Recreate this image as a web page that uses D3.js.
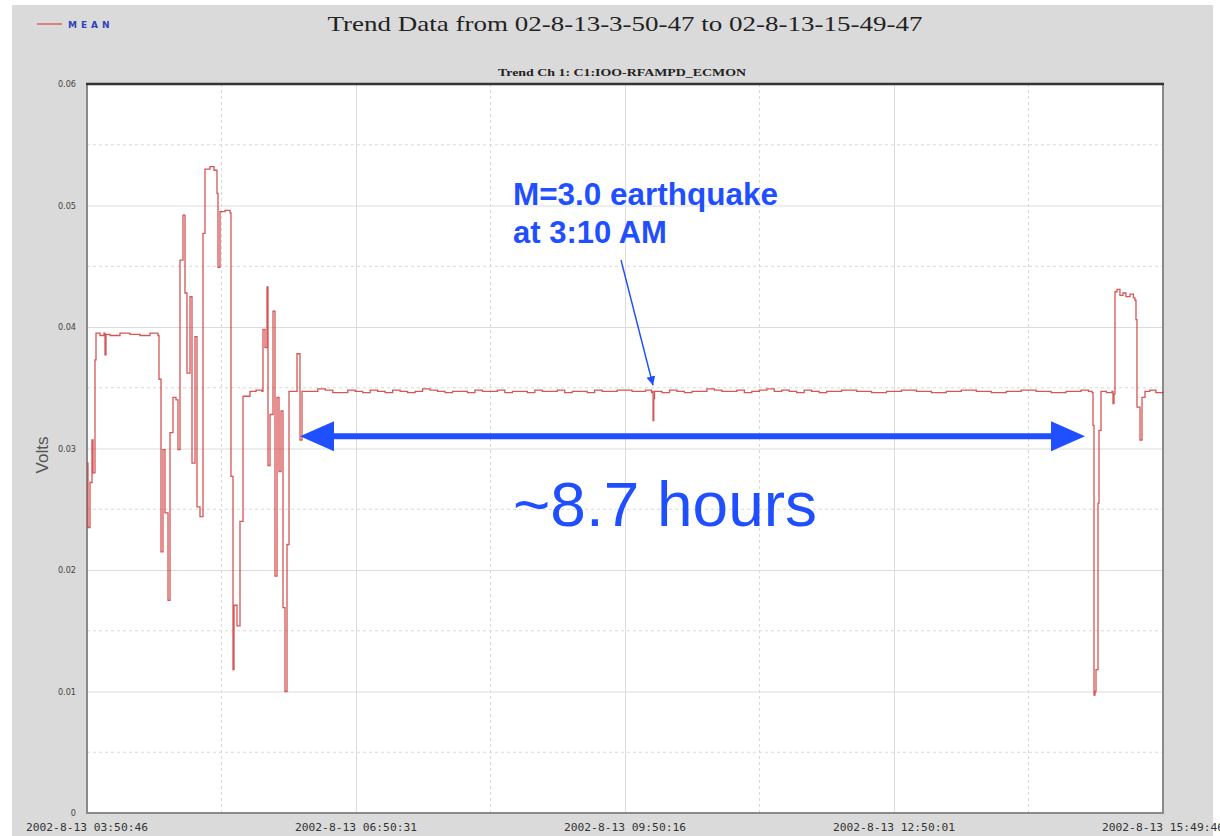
<!DOCTYPE html>
<html>
<head>
<meta charset="utf-8">
<script src="https://cdn.jsdelivr.net/npm/d3@7"></script>
<style>
body { margin: 0; background: #fff; }
svg { display: block; }
</style>
</head>
<body>
<svg id="Viz"></svg>
<script>
// trend of C1:IOO-RFAMPD mean as [time, volts]
let lockLossStart = [
["03:50:46",0.0288],["03:51:26",0.0235],["03:52:46",0.0272],["03:54:06",0.0307],["03:54:47",0.0280],
["03:56:07",0.0373],["03:56:47",0.0395],["03:59:27",0.0393],["04:02:08",0.0395],["04:02:48",0.0377],
["04:03:28",0.0394],["04:06:08",0.0393],["04:12:49",0.0395],["04:19:30",0.0394],["04:26:11",0.0393],
["04:32:52",0.0395],["04:38:13",0.0393],["04:38:53",0.0357],["04:40:13",0.0215],["04:41:33",0.0299],
["04:42:53",0.0247],["04:44:54",0.0175],["04:46:14",0.0313],["04:48:14",0.0342],["04:50:14",0.0340],
["04:51:34",0.0299],["04:52:55",0.0455],["04:54:55",0.0492],["04:56:15",0.0428],["04:57:35",0.0362],
["04:59:36",0.0425],["05:00:56",0.0288],["05:02:56",0.0392],["05:04:16",0.0252],["05:06:17",0.0244],
["05:08:17",0.0477],["05:09:37",0.0530],["05:12:57",0.0532],["05:15:38",0.0529],["05:17:38",0.0510],
["05:18:18",0.0449],["05:19:38",0.0495],["05:22:59",0.0496],["05:26:19",0.0494],["05:26:59",0.0277],
["05:28:20",0.0118],["05:29:00",0.0171],["05:31:00",0.0154],["05:33:00",0.0240],["05:35:01",0.0343],
["05:39:41",0.0347],["05:43:42",0.0348],["05:47:42",0.0347],["05:48:22",0.0398],["05:49:43",0.0383],
["05:51:03",0.0433],["05:51:43",0.0286],["05:53:03",0.0328],["05:55:03",0.0413],["05:56:23",0.0195],
["05:57:44",0.0342],["05:59:04",0.0281],["06:00:24",0.0331],["06:01:44",0.0169],["06:03:04",0.0100],
["06:04:25",0.0221],["06:05:45",0.0347],["06:09:45",0.0347],["06:11:06",0.0378],["06:13:06",0.0307],
["06:14:26",0.0347]
];

let lockedFlat = [
["06:20:00",0.0347],["06:25:00",0.0349],["06:30:00",0.0348],["06:35:00",0.0346],["06:40:00",0.0346],
["06:45:00",0.0348],["06:50:00",0.0347],["06:55:00",0.0346],["07:00:00",0.0348],["07:05:00",0.0347],
["07:10:00",0.0346],["07:15:00",0.0348],["07:20:00",0.0347],["07:25:00",0.0346],["07:30:00",0.0347],
["07:35:00",0.0349],["07:40:00",0.0348],["07:45:00",0.0347],["07:50:00",0.0346],["07:55:00",0.0347],
["08:00:00",0.0347],["08:05:00",0.0346],["08:10:00",0.0348],["08:15:00",0.0347],["08:20:00",0.0347],
["08:25:00",0.0348],["08:30:00",0.0346],["08:35:00",0.0347],["08:40:00",0.0347],["08:45:00",0.0346],
["08:50:00",0.0348],["08:55:00",0.0347],["09:00:00",0.0347],["09:05:00",0.0348],["09:10:00",0.0346],
["09:15:00",0.0347],["09:20:00",0.0347],["09:25:00",0.0346],["09:30:00",0.0348],["09:35:00",0.0347],
["09:40:00",0.0347],["09:45:00",0.0348],["09:50:00",0.0348],["09:55:00",0.0347],["10:00:00",0.0347],
["10:04:00",0.0348],["10:08:00",0.0346],["10:08:40",0.0347],["10:09:00",0.0323],["10:09:30",0.0341],
["10:10:00",0.0347],["10:15:00",0.0346],["10:20:00",0.0348],["10:25:00",0.0347],["10:30:00",0.0346],
["10:35:00",0.0347],["10:40:00",0.0347],["10:45:00",0.0349],["10:50:00",0.0348],["10:55:00",0.0347],
["11:00:00",0.0347],["11:05:00",0.0348],["11:10:00",0.0346],["11:15:00",0.0347],["11:20:00",0.0348],
["11:25:00",0.0349],["11:30:00",0.0347],["11:35:00",0.0348],["11:40:00",0.0347],["11:45:00",0.0346],
["11:50:00",0.0348],["11:55:00",0.0347],["12:00:00",0.0346],["12:05:00",0.0347],["12:10:00",0.0347],
["12:15:00",0.0348],["12:20:00",0.0348],["12:25:00",0.0347],["12:30:00",0.0347],["12:35:00",0.0346],
["12:40:00",0.0346],["12:45:00",0.0347],["12:50:00",0.0347],["12:55:00",0.0348],["13:00:00",0.0348],
["13:05:00",0.0347],["13:10:00",0.0347],["13:15:00",0.0346],["13:20:00",0.0346],["13:25:00",0.0347],
["13:30:00",0.0347],["13:35:00",0.0348],["13:40:00",0.0348],["13:45:00",0.0347],["13:50:00",0.0347],
["13:55:00",0.0346],["14:00:00",0.0346],["14:05:00",0.0347],["14:10:00",0.0347],["14:15:00",0.0348],
["14:20:00",0.0348],["14:25:00",0.0347],["14:30:00",0.0347],["14:35:00",0.0346],["14:40:00",0.0346],
["14:45:00",0.0347],["14:50:00",0.0347],["14:55:00",0.0348],["15:00:00",0.0347],["15:02:20",0.0346]
];

let lockLossEnd = [
["15:03:00",0.0319],["15:03:40",0.0097],["15:04:20",0.0100],["15:05:00",0.0118],["15:06:20",0.0255],
["15:07:00",0.0315],["15:08:20",0.0347],["15:12:00",0.0346],["15:15:41",0.0347],["15:16:21",0.0337],
["15:17:01",0.0345],["15:17:41",0.0429],["15:19:02",0.0431],["15:21:00",0.0426],["15:23:00",0.0428],
["15:25:00",0.0425],["15:27:43",0.0427],["15:30:00",0.0424],["15:31:03",0.0422],["15:31:43",0.0406],
["15:32:23",0.0334],["15:34:24",0.0307],["15:35:44",0.0342],["15:37:44",0.0347],["15:41:00",0.0348],
["15:45:00",0.0346],["15:49:46",0.0347]
];

let xTickTimes = ["03:50:46","06:50:31","09:50:16","12:50:01","15:49:46"];
let xTickLabels = ["2002-8-13 03:50:46","2002-8-13 06:50:31","2002-8-13 09:50:16","2002-8-13 12:50:01","2002-8-13 15:49:46"];
let yTicks = [0, 0.01, 0.02, 0.03, 0.04, 0.05, 0.06];
let yTickLabels = ["0","0.01","0.02","0.03","0.04","0.05","0.06"];

let Width = 1220, Height = 836;
let margin = {top: 84, left: 87, right: 57, bottom: 23};

let parseT = d3.timeParse("%H:%M:%S");
let series = lockLossStart.concat(lockedFlat, lockLossEnd).map(d => ({t: parseT(d[0]), v: d[1]}));

let vizArea = d3.select('#Viz').attr("width", Width).attr("height", Height);

// grey window panel
vizArea.append("rect").attr("x", 12).attr("y", 5).attr("width", 1201).attr("height", Height - 5).attr("fill", "#dadada");

let xScale = d3.scaleTime()
.domain([parseT(xTickTimes[0]), parseT(xTickTimes[4])])
.range([margin.left, Width - margin.right]);
let yScale = d3.scaleLinear().domain([0, 0.06]).range([Height - margin.bottom, margin.top]);

let x0 = xScale.range()[0], x1 = xScale.range()[1];
let y0 = yScale.range()[0], y1 = yScale.range()[1];

vizArea.append("rect")
.attr("x", x0).attr("y", y1).attr("width", x1 - x0).attr("height", y0 - y1)
.attr("fill", "#fff");

// minor grid (dashed) at half steps
let minorY = yTicks.slice(0, -1).map(d => d + 0.005);
let xt = xTickTimes.map(parseT);
let minorX = xt.slice(0, -1).map((d, i) => new Date((+d + +xt[i + 1]) / 2));

vizArea.append("g").selectAll("line").data(minorY).enter().append("line")
.attr("x1", x0).attr("x2", x1)
.attr("y1", d => yScale(d)).attr("y2", d => yScale(d))
.attr("stroke", "#d8d8d8").attr("stroke-dasharray", "3,3");
vizArea.append("g").selectAll("line").data(minorX).enter().append("line")
.attr("y1", y1).attr("y2", y0)
.attr("x1", d => xScale(d)).attr("x2", d => xScale(d))
.attr("stroke", "#d8d8d8").attr("stroke-dasharray", "3,3");

// major grid
vizArea.append("g")
.attr("transform", "translate(" + x0 + ",0)")
.call(d3.axisLeft(yScale).tickValues(yTicks).tickSize(-(x1 - x0)).tickFormat(""))
.call(g => g.select(".domain").remove())
.call(g => g.selectAll("line").attr("stroke", "#dcdcdc"));
vizArea.append("g")
.attr("transform", "translate(0," + y0 + ")")
.call(d3.axisBottom(xScale).tickValues(xt).tickSize(-(y0 - y1)).tickFormat(""))
.call(g => g.select(".domain").remove())
.call(g => g.selectAll("line").attr("stroke", "#dcdcdc"));

// tick labels
vizArea.append("g").selectAll("text").data(yTicks).enter().append("text")
.attr("x", 76).attr("y", d => yScale(d) + 3)
.attr("text-anchor", "end")
.attr("font-family", "DejaVu Sans Condensed, DejaVu Sans")
.attr("font-size", 9).attr("fill", "#444")
.text((d, i) => yTickLabels[i]);

vizArea.append("g").selectAll("text").data(xt).enter().append("text")
.attr("x", d => xScale(d)).attr("y", 831)
.attr("text-anchor", "middle")
.attr("font-family", "DejaVu Sans Mono")
.attr("font-size", 10).attr("fill", "#333")
.attr("textLength", 122).attr("lengthAdjust", "spacingAndGlyphs")
.text((d, i) => xTickLabels[i]);

// frame
vizArea.append("rect")
.attr("x", x0).attr("y", y1).attr("width", x1 - x0).attr("height", y0 - y1)
.attr("fill", "none").attr("stroke", "#8a8a8a").attr("stroke-width", 2);
vizArea.append("line")
.attr("x1", x0 - 1).attr("x2", x1 + 1).attr("y1", y1).attr("y2", y1)
.attr("stroke", "#333").attr("stroke-width", 2.5);

// trend line, held between samples like the trend viewer draws it
let drawline = d3.line().curve(d3.curveStepAfter).x(d => xScale(d.t)).y(d => yScale(d.v));
vizArea.append("path")
.datum(series)
.attr("fill", "none")
.attr("stroke", "#cc2a2a")
.attr("stroke-opacity", 0.8)
.attr("stroke-width", 1.3)
.attr("d", drawline);

// titles and legend
vizArea.append("text")
.attr("x", 625).attr("y", 31).attr("text-anchor", "middle")
.attr("font-family", "Liberation Serif").attr("font-size", 22).attr("fill", "#222")
.attr("textLength", 595).attr("lengthAdjust", "spacingAndGlyphs")
.text("Trend Data from 02-8-13-3-50-47 to 02-8-13-15-49-47");
vizArea.append("text")
.attr("x", 622).attr("y", 76).attr("text-anchor", "middle")
.attr("font-family", "Liberation Serif").attr("font-size", 11).attr("font-weight", "bold").attr("fill", "#222")
.attr("textLength", 248).attr("lengthAdjust", "spacingAndGlyphs")
.text("Trend Ch 1: C1:IOO-RFAMPD_ECMON");
vizArea.append("line").attr("x1", 37).attr("x2", 62).attr("y1", 24).attr("y2", 24)
.attr("stroke", "#e06060").attr("stroke-width", 1.5);
vizArea.append("text").attr("x", 68).attr("y", 28)
.attr("font-family", "DejaVu Sans").attr("font-size", 9).attr("font-weight", "bold").attr("fill", "#3040c0")
.attr("letter-spacing", 4).text("MEAN");

vizArea.append("text")
.attr("transform", "translate(48,455) rotate(-90)")
.attr("text-anchor", "middle")
.attr("font-family", "Liberation Sans").attr("font-size", 17).attr("fill", "#555")
.text("Volts");

// annotations
let blue = "#1f4fff";
let defs = vizArea.append("defs");
defs.append("marker").attr("id", "thinHead").attr("viewBox", "0 0 10 10")
.attr("refX", 10).attr("refY", 5).attr("markerWidth", 9).attr("markerHeight", 11)
.attr("markerUnits", "userSpaceOnUse").attr("orient", "auto")
.append("path").attr("d", "M0,0 L10,5 L0,10 z").attr("fill", blue);

vizArea.append("text").attr("x", 513).attr("y", 205)
.attr("font-family", "Liberation Sans").attr("font-weight", "bold").attr("font-size", 31).attr("fill", blue)
.attr("textLength", 265).attr("lengthAdjust", "spacingAndGlyphs")
.text("M=3.0 earthquake");
vizArea.append("text").attr("x", 513).attr("y", 243)
.attr("font-family", "Liberation Sans").attr("font-weight", "bold").attr("font-size", 31).attr("fill", blue)
.text("at 3:10 AM");
vizArea.append("line")
.attr("x1", xScale(parseT("09:47:36"))).attr("y1", yScale(0.0455))
.attr("x2", xScale(parseT("10:09:00"))).attr("y2", yScale(0.0352))
.attr("stroke", blue).attr("stroke-width", 1.5).attr("marker-end", "url(#thinHead)");

let ax0 = xScale(parseT("06:13:06")), ax1 = xScale(parseT("14:57:40")), ay = yScale(0.031);
vizArea.append("line").attr("x1", ax0 + 30).attr("x2", ax1 - 30).attr("y1", ay).attr("y2", ay)
.attr("stroke", blue).attr("stroke-width", 6);
vizArea.append("path").attr("d", "M" + ax0 + "," + ay + " l34,-15 l0,30 z").attr("fill", blue);
vizArea.append("path").attr("d", "M" + ax1 + "," + ay + " l-34,-15 l0,30 z").attr("fill", blue);
vizArea.append("text").attr("x", 513).attr("y", 526)
.attr("font-family", "Liberation Sans").attr("font-size", 63).attr("fill", blue)
.attr("textLength", 304).attr("lengthAdjust", "spacingAndGlyphs")
.text("~8.7 hours");
</script>
</body>
</html>
